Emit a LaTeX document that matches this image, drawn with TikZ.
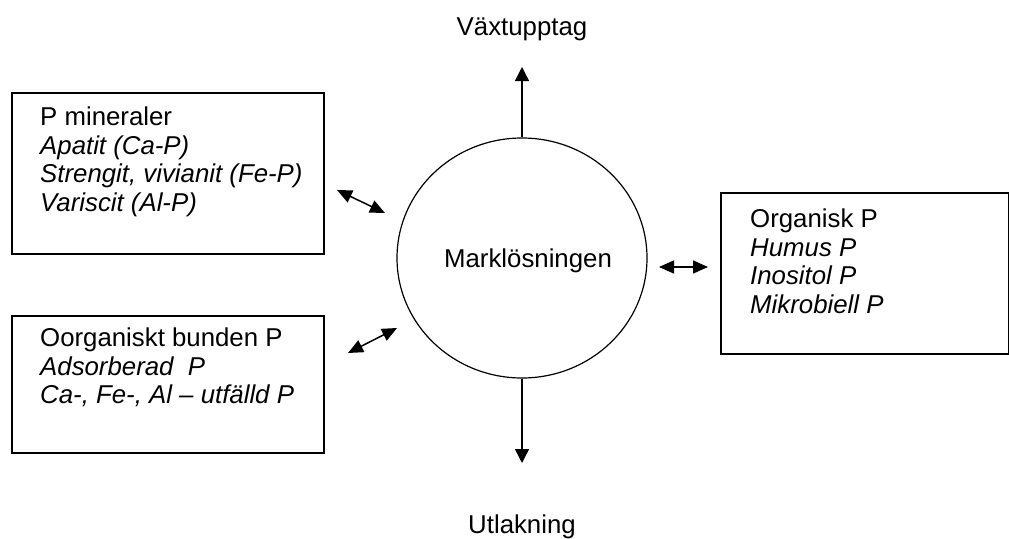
\documentclass[tikz,border=0pt]{standalone}
\usepackage{fontspec}
\setmainfont{Liberation Sans}
\usetikzlibrary{arrows.meta,shapes.geometric}
\tikzset{
  box/.style={draw, line width=1.6pt, rectangle, inner sep=0pt, anchor=north west},
  txt/.style={inner sep=0pt, anchor=north west, align=left,
    font=\fontsize{25.8}{28.4}\selectfont},
  lbl/.style={inner sep=0pt, font=\fontsize{25.8}{28.4}\selectfont},
  flow/.style={line width=1.4pt, -{Triangle[length=14pt,width=14pt]}},
  swap/.style={line width=1.5pt, {Triangle[length=15pt,width=13pt]}-{Triangle[length=15pt,width=13pt]}}
}
\begin{document}
\begin{tikzpicture}[x=1pt,y=-1pt]
\useasboundingbox (0,0) rectangle (1009,538);
% central soil solution
\node[draw, ellipse, line width=1.2pt, minimum width=250pt, minimum height=240pt] (sol) at (522,258) {};
\node[lbl, anchor=base] (soltxt) at (528,267) {Marklösningen};
% pools
\node[box, minimum width=312pt, minimum height=161pt] (min) at (11,92) {};
\node[txt] (mintxt) at (40,107) {P mineraler\\ \textit{Apatit (Ca-P)}\\ \textit{Strengit, vivianit (Fe-P)}\\ \textit{Variscit (Al-P)}};
\node[box, minimum width=312pt, minimum height=137pt] (inorg) at (11,315) {};
\node[txt] (inorgtxt) at (40,328) {Oorganiskt bunden P\\ \textit{Adsorberad\ \ P}\\ \textit{Ca-, Fe-, Al -- utfälld P}};
\node[box, minimum width=288pt, minimum height=161pt] (org) at (720,192) {};
\node[txt] (orgtxt) at (750,209) {Organisk P\\ \textit{Humus P}\\ \textit{Inositol P}\\ \textit{Mikrobiell P}};
% outputs
\node[lbl, anchor=base] (upt) at (522,35) {Växtupptag};
\node[lbl, anchor=base] (leach) at (522,533) {Utlakning};
\coordinate (uptip) at (522,67);
\coordinate (downtip) at (522,463);
\draw[flow] (sol.north) -- (uptip);
\draw[flow] (sol.south) -- (downtip);
% exchanges
\coordinate (a1) at (337,190);
\coordinate (b1) at (385,213);
\coordinate (a2) at (348,353);
\coordinate (b2) at (397,328);
\coordinate (a3) at (659,267);
\coordinate (b3) at (708,267);
\draw[swap] (a1) -- (b1);
\draw[swap] (a2) -- (b2);
\draw[swap] (a3) -- (b3);
\end{tikzpicture}
\end{document}
